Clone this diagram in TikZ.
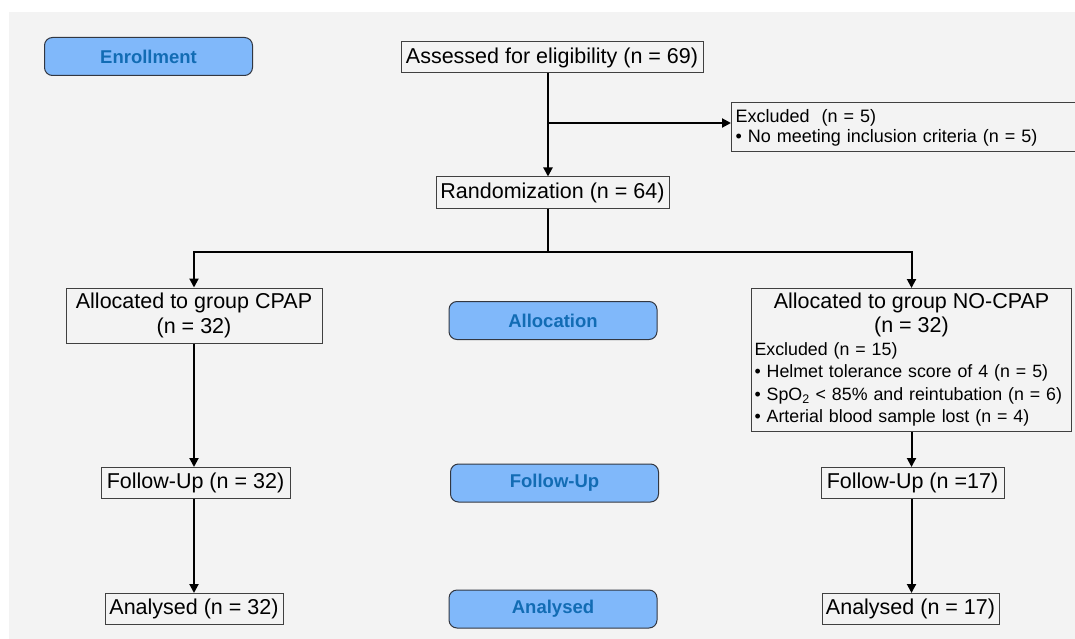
\documentclass[tikz,border=0pt]{standalone}
\usepackage{fontspec}
\setmainfont{Liberation Sans}
\usetikzlibrary{arrows.meta,calc,positioning}
\definecolor{paper}{rgb}{0.953,0.953,0.953}
\definecolor{pillblue}{RGB}{128,184,250}
\definecolor{pilltext}{RGB}{18,108,180}
\definecolor{rim}{RGB}{50,55,65}
\tikzset{
  fase/.style={
    rounded corners=8pt,
    draw=rim,
    fill=pillblue,
    text=pilltext,
    align=center,
    minimum width=208pt,
    minimum height=38pt,
    inner sep=0pt,
    line width=1pt,
    font=\fontsize{18.5}{20}\selectfont\bfseries
  },
  caja/.style={
    draw=black!75,
    line width=1pt,
    align=center,
    minimum height=31pt,
    inner sep=3pt,
    font=\fontsize{21.5}{25}\selectfont
  },
  nota/.style={
    draw=black!75,
    line width=1pt,
    align=left,
    inner xsep=3pt,
    inner ysep=3pt,
    font=\fontsize{17.8}{22.5}\selectfont
  },
  arrow/.style={
    -{Triangle[length=9pt,width=9pt]},
    line width=2pt,
    black
  }
}
\begin{document}
\begin{tikzpicture}[x=1pt,y=-1pt]
\useasboundingbox (0,0) rectangle (1075,639);
\fill[paper] (9,12) rectangle (1075,639);
% phase labels
\node[fase] (enroll) at (148.5,56.5) {Enrollment};
\node[fase] (alloc) at (553,320.5) {Allocation};
\node[fase] (follow) at (554.5,483) {Follow-Up};
\node[fase] (analys) at (553,609) {Analysed};
% enrollment
\node[caja,minimum width=302pt] (assess) at (552,57.5) {Assessed for eligibility (n = 69)};
\node[nota,anchor=west,text width=339pt,minimum height=49pt,inner xsep=4pt,
  font=\fontsize{18}{20}\selectfont] (excl) at (731,127.5)
  {Excluded~ (n = 5)\\ • No meeting inclusion criteria (n = 5)};
\node[caja,minimum width=233pt] (rand) at (552.5,192.5) {Randomization (n = 64)};
% allocation
\node[caja,minimum width=256pt,minimum height=55pt] (cpap) at (194,315.5)
  {Allocated to group CPAP\\(n = 32)};
\node[nota,anchor=north west,text width=314pt,minimum height=143pt] (nocpap) at (751,288)
  {{\fontsize{21.5}{24}\selectfont\centering Allocated to group NO-CPAP\\(n = 32)\par}
   Excluded (n = 15)\\
   • Helmet tolerance score of 4 (n = 5)\\
   • SpO\textsubscript{2} < 85\% and reintubation (n = 6)\\
   • Arterial blood sample lost (n = 4)};
% follow-up and analysis
\node[caja,minimum width=189pt] (fu1) at (195.5,483) {Follow-Up (n = 32)};
\node[caja,minimum width=183pt] (fu2) at (912.5,483) {Follow-Up (n =17)};
\node[caja,minimum width=178pt] (an1) at (194,609) {Analysed (n = 32)};
\node[caja,minimum width=177pt] (an2) at (910.5,609) {Analysed (n = 17)};
% connectors
\coordinate (split) at (548,123);
\coordinate (fork) at (548,252);
\draw[arrow] (assess.south -| split) -- (rand.north -| split);
\draw[arrow] (split) -- (split -| excl.west);
\draw[line width=2pt] (rand.south -| fork) -- (fork);
\draw[arrow] (fork) -| (cpap.north);
\draw[arrow] (fork) -| (nocpap.north);
\draw[arrow] (cpap.south) -- (cpap.south |- fu1.north);
\draw[arrow] (cpap.south |- fu1.south) -- (cpap.south |- an1.north);
\draw[arrow] (nocpap.south) -- (nocpap.south |- fu2.north);
\draw[arrow] (nocpap.south |- fu2.south) -- (nocpap.south |- an2.north);
\end{tikzpicture}
\end{document}
